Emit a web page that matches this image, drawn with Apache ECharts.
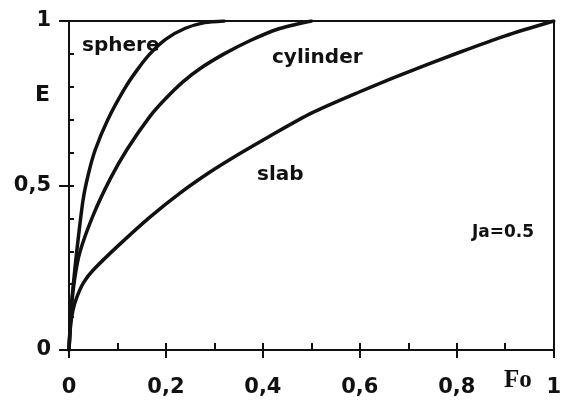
<!DOCTYPE html>
<html>
<head>
<meta charset="utf-8">
<script src="https://cdn.jsdelivr.net/npm/echarts@6/dist/echarts.min.js"></script>
<style>html,body{margin:0;padding:0;background:#fff}#c{width:564px;height:401px}</style>
</head>
<body>
<div id="c"></div>
<script>
// Fo (x) and E (y) values
const sphereFo = [0, 0.004, 0.009, 0.016, 0.029, 0.04, 0.054, 0.08, 0.115, 0.14, 0.167, 0.2, 0.24, 0.28, 0.32];
const sphereE  = [0, 0.12, 0.2, 0.30, 0.456, 0.535, 0.608, 0.70, 0.795, 0.85, 0.90, 0.945, 0.978, 0.995, 1];
const cylFo = [0, 0.005, 0.012, 0.023, 0.05, 0.085, 0.12, 0.167, 0.2, 0.235, 0.27, 0.32, 0.373, 0.43, 0.5];
const cylE  = [0, 0.13, 0.22, 0.30, 0.41, 0.52, 0.61, 0.71, 0.765, 0.815, 0.855, 0.9, 0.94, 0.975, 1];
const slabFo = [0, 0.003, 0.008, 0.016, 0.03, 0.05, 0.1, 0.167, 0.229, 0.291, 0.35, 0.414, 0.5, 0.6, 0.682, 0.806, 0.9, 1];
const slabE  = [0, 0.07, 0.12, 0.16, 0.205, 0.243, 0.315, 0.404, 0.477, 0.541, 0.595, 0.65, 0.72, 0.785, 0.835, 0.905, 0.955, 1];
const xTickStep = 0.2;
const yTickStep = 0.5;
const curveLabels = ['sphere', 'cylinder', 'slab'];
const paramLabel = 'Ja=0.5';
const xName = 'Fo';
const yName = 'E';

const pair = (xs, ys) => xs.map((x, i) => [x, ys[i]]);
const comma = v => String(+v.toFixed(2)).replace('.', ',');
const ink = '#111';
const sans = 'DejaVu Sans';

const chart = echarts.init(document.getElementById('c'), null, {renderer: 'canvas'});
const lineStyleAxis = {color: ink, width: 2};
const baseAxis = {
  min: 0, max: 1, type: 'value', splitLine: {show: false}
};
chart.setOption({
  animation: false,
  backgroundColor: '#fff',
  grid: {left: 69, right: 10, top: 21, bottom: 51, containLabel: false},
  xAxis: [
    Object.assign({}, baseAxis, {
      position: 'bottom', interval: xTickStep,
      axisLine: {show: true, onZero: false, lineStyle: lineStyleAxis},
      axisTick: {show: true, inside: false, length: 8, lineStyle: lineStyleAxis},
      axisLabel: {show: true, margin: 27, formatter: comma, color: ink, fontFamily: sans, fontWeight: 'bold', fontSize: 21}
    }),
    Object.assign({}, baseAxis, {
      position: 'bottom', interval: xTickStep / 2,
      axisLine: {show: false, onZero: false},
      axisTick: {show: true, inside: true, length: 7, lineStyle: lineStyleAxis},
      axisLabel: {show: false}
    }),
    Object.assign({}, baseAxis, {
      position: 'top',
      axisLine: {show: true, onZero: false, lineStyle: lineStyleAxis},
      axisTick: {show: false}, axisLabel: {show: false}
    })
  ],
  yAxis: [
    Object.assign({}, baseAxis, {
      position: 'left', interval: yTickStep,
      axisLine: {show: true, onZero: false, lineStyle: lineStyleAxis},
      axisTick: {show: true, inside: false, length: 10, lineStyle: lineStyleAxis},
      axisLabel: {show: true, margin: 18, formatter: comma, color: ink, fontFamily: sans, fontWeight: 'bold', fontSize: 21}
    }),
    Object.assign({}, baseAxis, {
      position: 'left', interval: yTickStep / 5,
      axisLine: {show: false, onZero: false},
      axisTick: {show: true, inside: true, length: 5, lineStyle: lineStyleAxis},
      axisLabel: {show: false}
    }),
    Object.assign({}, baseAxis, {
      position: 'right',
      axisLine: {show: true, onZero: false, lineStyle: lineStyleAxis},
      axisTick: {show: false}, axisLabel: {show: false}
    })
  ],
  series: [
    [sphereFo, sphereE], [cylFo, cylE], [slabFo, slabE]
  ].map((s, i) => ({
    type: 'line', name: curveLabels[i], xAxisIndex: 0, yAxisIndex: 0,
    data: pair(s[0], s[1]), showSymbol: false, smooth: 0.25,
    lineStyle: {color: ink, width: 3.5, join: 'round', cap: 'round'}, clip: true
  })),
  graphic: [
    {type: 'text', left: 82, top: 36, style: {text: curveLabels[0], font: 'bold 20px "DejaVu Sans"', fill: ink}},
    {type: 'text', left: 272, top: 48, style: {text: curveLabels[1], font: 'bold 20px "DejaVu Sans"', fill: ink}},
    {type: 'text', left: 257, top: 165, style: {text: curveLabels[2], font: 'bold 20px "DejaVu Sans"', fill: ink}},
    {type: 'text', left: 472, top: 224, style: {text: paramLabel, font: 'bold 17px "DejaVu Sans"', fill: ink}},
    {type: 'text', left: 35, top: 84, style: {text: yName, font: 'bold 22px "DejaVu Sans"', fill: ink}},
    {type: 'text', left: 504, top: 368, style: {text: xName, font: 'bold 25px "Liberation Serif"', fill: ink}}
  ]
});
</script>
</body>
</html>
